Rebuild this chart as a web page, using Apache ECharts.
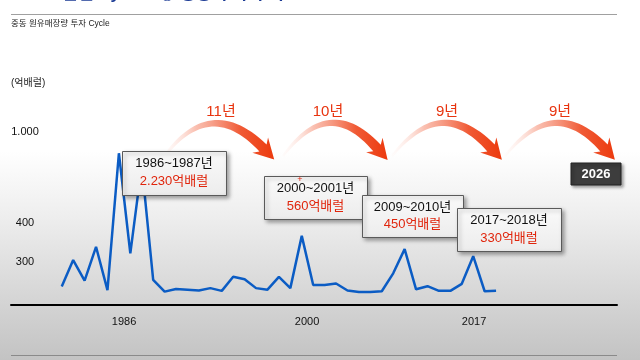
<!DOCTYPE html>
<html><head><meta charset="utf-8">
<script src="https://cdn.jsdelivr.net/npm/echarts@6/dist/echarts.min.js"></script>
<style>html,body{margin:0;padding:0;background:#fff;} #c{width:640px;height:360px;}</style>
</head><body><div id="c"></div>
<script>
// ---- data ----
const values = [237,305,252,339,228,860,322,782,254,224,231,229,227,233,226,262,256,233,229,262,233,367,241,241,245,227,223,223,225,271,333,230,238,226,226,244,315,225,226];
const xTickPositions = [5.45, 21.46, 36.07];
const xTickLabels = ['1986', '2000', '2017'];
const yTickValues = [300, 400, 1000];
const yTickLabels = ['300', '400', '1.000'];
const periods = ['1986~1987년', '2000~2001년', '2009~2010년', '2017~2018년'];
const amounts = ['2.230억배럴', '560억배럴', '450억배럴', '330억배럴'];
const gaps = ['11년', '10년', '9년', '9년'];
const nextYear = '2026';
const titleText = 'IV. Oil 관련 Cycle - ③ 중동 투자 주기';
const subTitle = '중동 원유매장량 투자 Cycle';
const unitText = '(억배럴)';

// broken (piecewise) value scale of the original chart
function toAxis(v) { return v <= 400 ? 43 + (v - 300) * 0.39 : 82 + (v - 400) * (91 / 600); }

const FONT = '"Liberation Sans","Noto Sans CJK KR",sans-serif';
const chart = echarts.init(document.getElementById('c'), null, {renderer: 'canvas'});

function arrowShape(p0, c, p1, headLen, headHalf) {
  const N = 30, left = [], right = [];
  for (let k = 0; k <= N; k++) {
    const t = k / N, mt = 1 - t;
    const x = mt * mt * p0[0] + 2 * mt * t * c[0] + t * t * p1[0];
    const y = mt * mt * p0[1] + 2 * mt * t * c[1] + t * t * p1[1];
    let dx = 2 * mt * (c[0] - p0[0]) + 2 * t * (p1[0] - c[0]);
    let dy = 2 * mt * (c[1] - p0[1]) + 2 * t * (p1[1] - c[1]);
    const L = Math.hypot(dx, dy); dx /= L; dy /= L;
    const w = 1.2 + 3.8 * t;
    left.push([x + dy * w, y - dx * w]);
    right.push([x - dy * w, y + dx * w]);
  }
  let dx = p1[0] - c[0], dy = p1[1] - c[1];
  const L = Math.hypot(dx, dy); dx /= L; dy /= L;
  const tip = [p1[0] + dx * headLen, p1[1] + dy * headLen];
  const wl = [p1[0] + dy * headHalf - dx * 4, p1[1] - dx * headHalf - dy * 4];
  const wr = [p1[0] - dy * headHalf - dx * 4, p1[1] + dx * headHalf - dy * 4];
  return left.concat([wl, tip, wr]).concat(right.reverse());
}

const arrowDefs = [
  {p0: [163, 158], c: [210, 94], p1: [263, 148], lx: 221},
  {p0: [283, 156], c: [329, 94], p1: [377, 148], lx: 328},
  {p0: [392, 156], c: [441, 94], p1: [491, 148], lx: 447},
  {p0: [505, 156], c: [554, 94], p1: [604, 148], lx: 560}
];
const boxDefs = [
  {x: 122, y: 151, w: 104, h: 44},
  {x: 264, y: 176, w: 103, h: 43},
  {x: 362, y: 195, w: 101, h: 42},
  {x: 457, y: 208, w: 104, h: 43}
];

const graphics = [];
graphics.push({type: 'text', left: 11, top: -14, z: 100, style: {text: titleText, fill: '#1b3a94', font: 'bold 17px ' + FONT}});
graphics.push({type: 'line', z: 100, shape: {x1: 11, y1: 14.5, x2: 617, y2: 14.5}, style: {stroke: '#a0a0a0', lineWidth: 1}});
graphics.push({type: 'text', x: 11, y: 24, z: 100, style: {text: subTitle, fill: '#222', font: '8.5px ' + FONT, textVerticalAlign: 'middle'}});
graphics.push({type: 'text', x: 11, y: 83, z: 100, style: {text: unitText, fill: '#222', font: '10px ' + FONT, textVerticalAlign: 'middle'}});
graphics.push({type: 'line', z: 100, shape: {x1: 11, y1: 355.5, x2: 617, y2: 355.5}, style: {stroke: '#8a8a8a', lineWidth: 1}});

arrowDefs.forEach((a, i) => {
  graphics.push({type: 'polygon', z: 90, shape: {points: arrowShape(a.p0, a.c, a.p1, 16, 11)},
    style: {fill: new echarts.graphic.LinearGradient(0, 0, 1, 0, [
      {offset: 0, color: 'rgba(255,235,230,0.1)'},
      {offset: 0.3, color: 'rgba(248,170,150,0.75)'},
      {offset: 0.7, color: '#f05a35'},
      {offset: 1, color: '#ec3a0e'}])}});
  graphics.push({type: 'text', x: a.lx, y: 112, z: 100, style: {text: gaps[i], fill: '#e8340f', font: '15px ' + FONT, textAlign: 'center', textVerticalAlign: 'middle'}});
});

boxDefs.forEach((b, i) => {
  graphics.push({type: 'rect', z: 100 + i * 2, shape: {x: b.x + 0.5, y: b.y + 0.5, width: b.w, height: b.h},
    style: {fill: new echarts.graphic.LinearGradient(0, 0, 0, 1, [{offset: 0, color: '#fafafa'}, {offset: 1, color: '#ececec'}]),
      stroke: '#5a5a5a', lineWidth: 1, shadowBlur: 4, shadowOffsetX: 2, shadowOffsetY: 2, shadowColor: 'rgba(0,0,0,0.35)'}});
  const cx = b.x + b.w / 2;
  graphics.push({type: 'text', z: 101 + i * 2, x: cx, y: b.y + b.h * 0.29, style: {text: periods[i], fill: '#111', font: '13px ' + FONT, textAlign: 'center', textVerticalAlign: 'middle'}});
  graphics.push({type: 'text', z: 101 + i * 2, x: cx, y: b.y + b.h * 0.7, style: {text: amounts[i], fill: '#e0250c', font: '13px ' + FONT, textAlign: 'center', textVerticalAlign: 'middle'}});
});
graphics.push({type: 'text', z: 103, x: 300, y: 180, style: {text: '+', fill: '#e0250c', font: '9px ' + FONT, textAlign: 'center', textVerticalAlign: 'middle'}});

graphics.push({type: 'rect', z: 100, shape: {x: 571, y: 163, width: 50, height: 22},
  style: {fill: '#3d3d3d', stroke: '#222', lineWidth: 1, shadowBlur: 3, shadowOffsetX: 2, shadowOffsetY: 2, shadowColor: 'rgba(0,0,0,0.35)'}});
graphics.push({type: 'text', z: 101, x: 596, y: 174, style: {text: nextYear, fill: '#fff', font: 'bold 13px ' + FONT, textAlign: 'center', textVerticalAlign: 'middle'}});

const yTickPos = yTickValues.map(toAxis);
chart.setOption({
  animation: false,
  backgroundColor: new echarts.graphic.LinearGradient(0, 0, 0, 1, [
    {offset: 0, color: '#ffffff'}, {offset: 0.42, color: '#ffffff'},
    {offset: 0.6, color: '#eeeeee'}, {offset: 1, color: '#c3c3c3'}]),
  grid: {left: 11, right: 23, top: 100, bottom: 55, containLabel: false, outerBoundsMode: 'none'},
  xAxis: {
    type: 'value', min: -4.44, max: 48.58,
    axisLine: {show: true, lineStyle: {color: '#000', width: 2}},
    axisTick: {show: false}, splitLine: {show: false},
    axisLabel: {customValues: xTickPositions, margin: 11, fontSize: 11, color: '#111', fontFamily: FONT,
      formatter: v => { const k = xTickPositions.findIndex(p => Math.abs(p - v) < 0.01); return k >= 0 ? xTickLabels[k] : ''; }}
  },
  yAxis: {
    type: 'value', min: 0, max: 205,
    axisLine: {show: false}, axisTick: {show: false}, splitLine: {show: false},
    axisLabel: {inside: true, align: 'center', margin: 14, fontSize: 11, color: '#111', fontFamily: FONT,
      customValues: yTickPos,
      formatter: v => { const k = yTickPos.findIndex(p => Math.abs(p - v) < 0.5); return k >= 0 ? yTickLabels[k] : ''; }}
  },
  series: [{
    type: 'line', showSymbol: false, silent: true, z: 2,
    lineStyle: {color: '#0b5cc4', width: 2.5},
    data: values.map((v, i) => [i, toAxis(v)])
  }],
  graphic: graphics
});
</script></body></html>
